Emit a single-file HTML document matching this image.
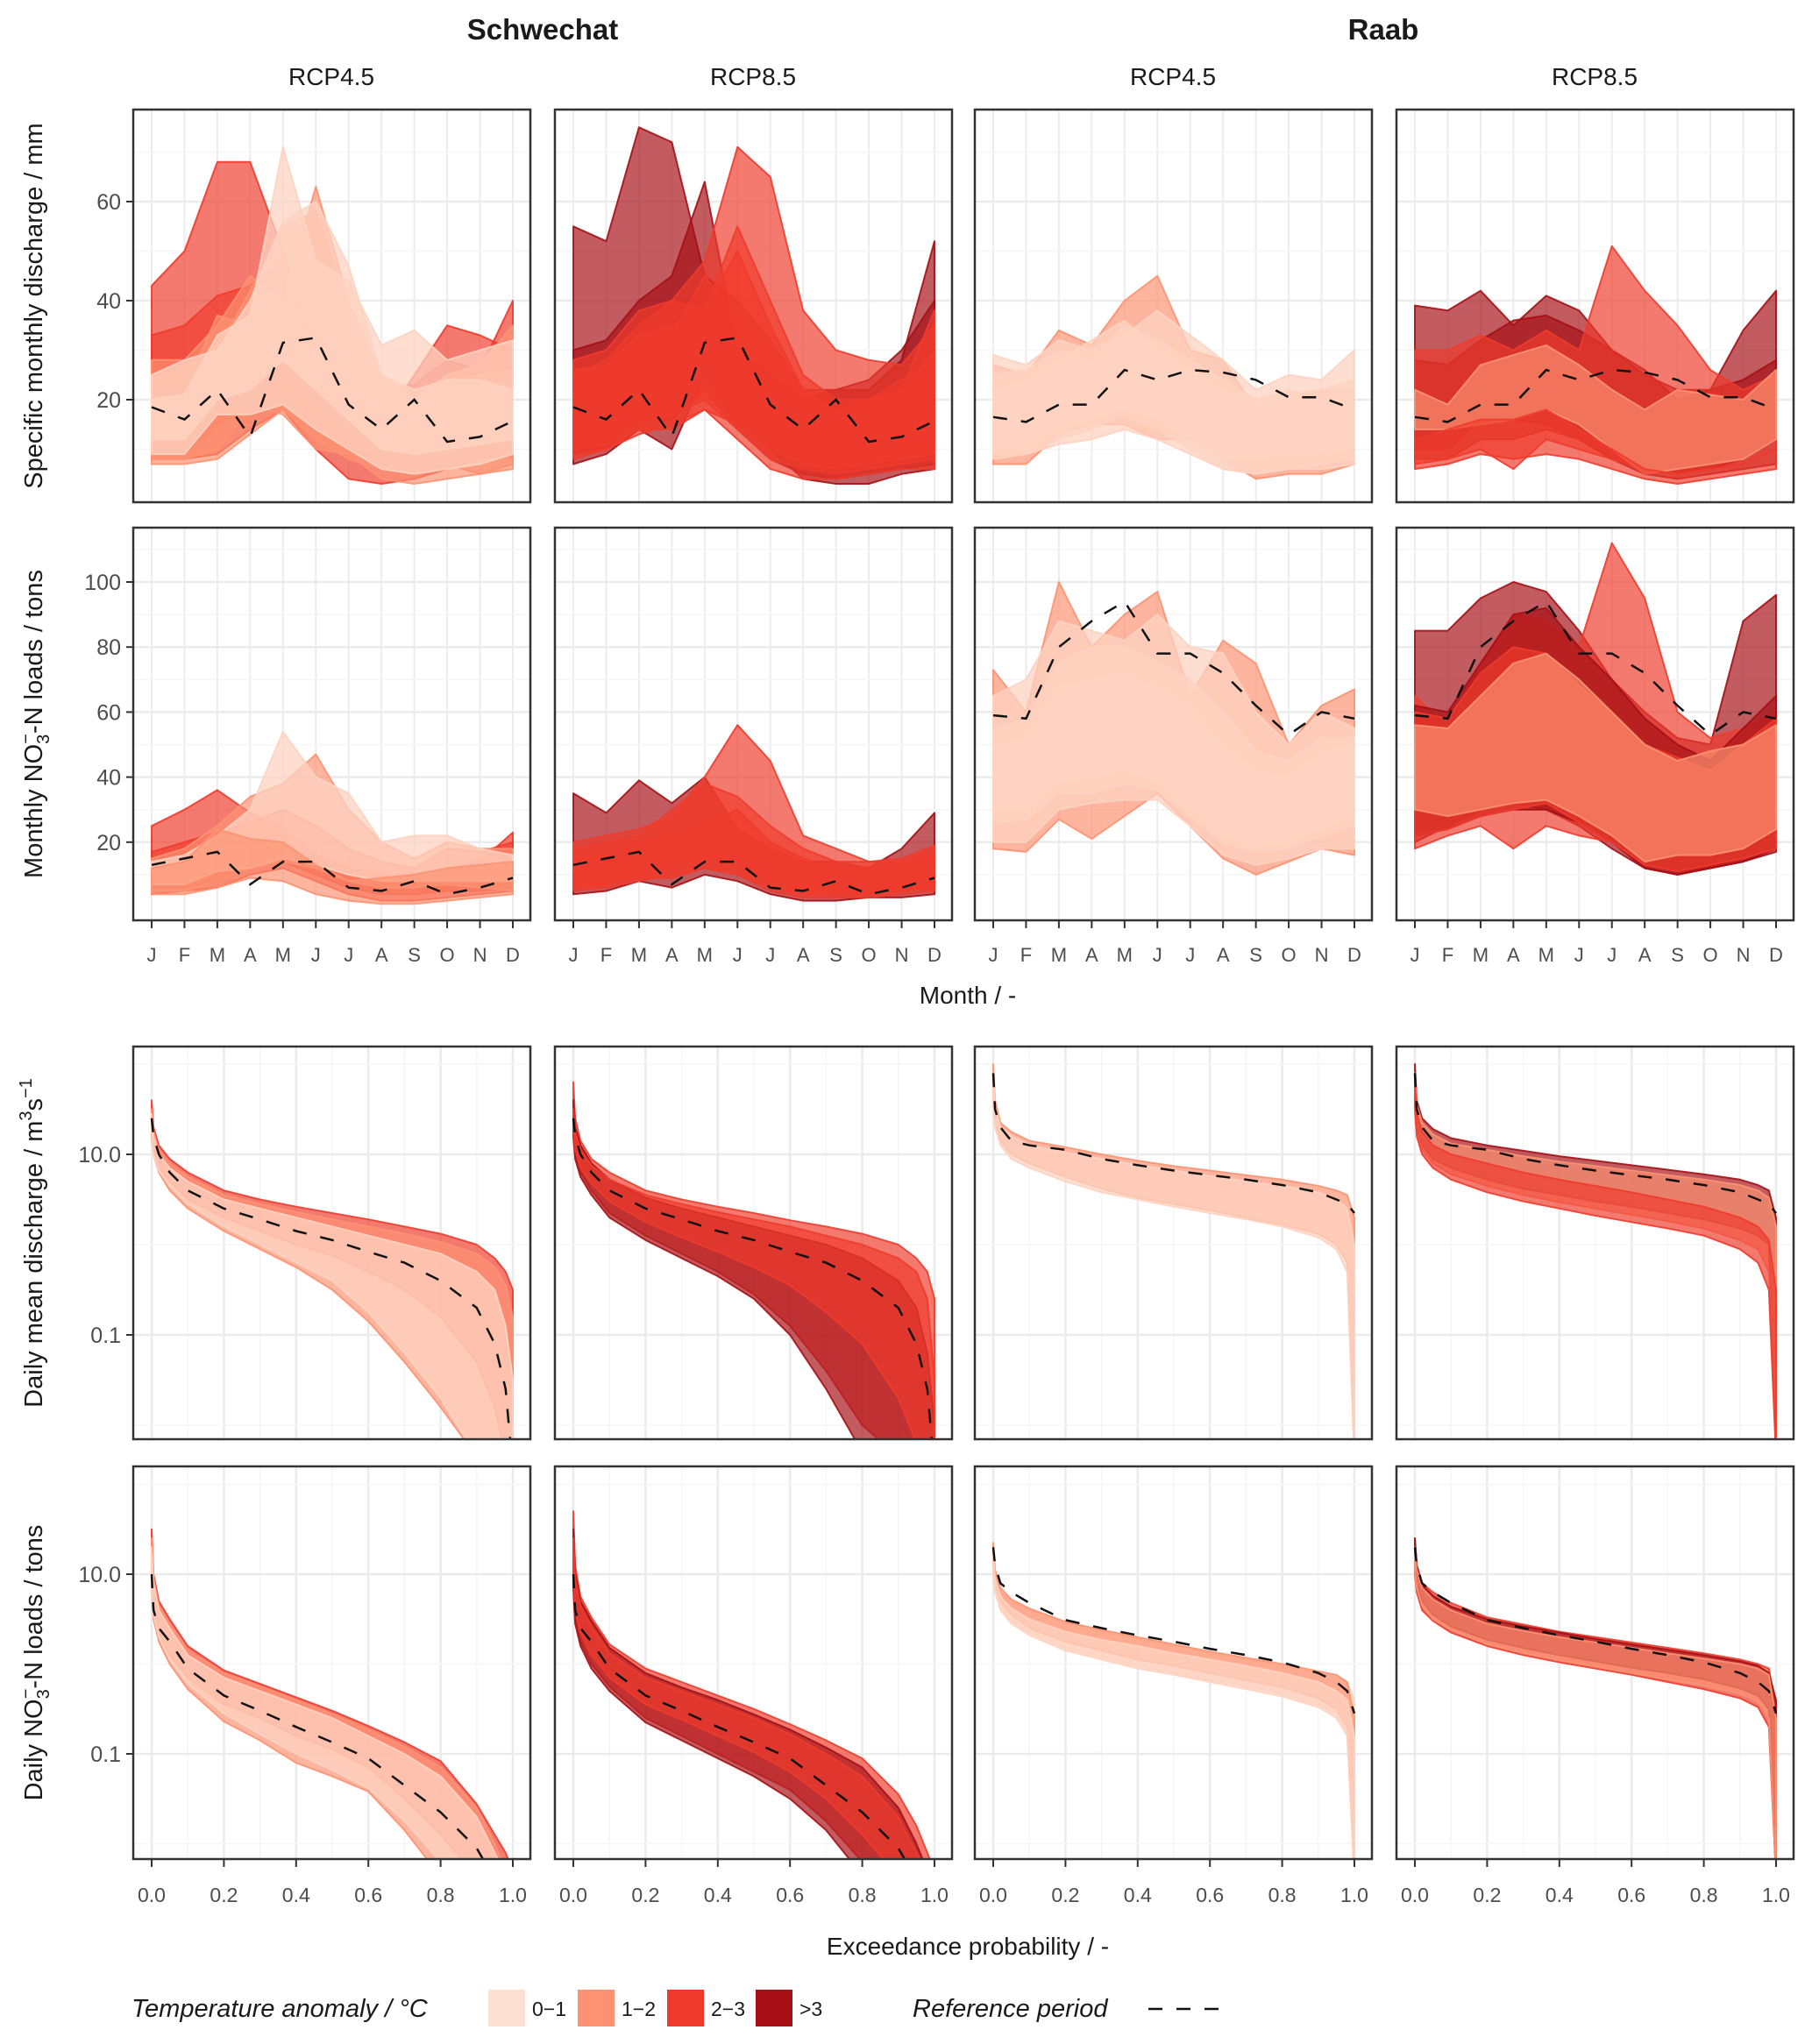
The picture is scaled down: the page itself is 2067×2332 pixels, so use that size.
<!DOCTYPE html>
<html><head><meta charset="utf-8"><title>Schwechat / Raab climate scenario panels</title>
<style>
html,body{margin:0;padding:0;background:#fff;}
svg text{font-family:"Liberation Sans",sans-serif;}
</style></head>
<body>
<svg id="chart" xmlns="http://www.w3.org/2000/svg" width="2067" height="2332" viewBox="0 0 2067 2332">
<rect width="2067" height="2332" fill="#fff"/>
<g id="root"></g>
</svg>
<script>
// ---------- data ----------
const monthLabels=['J','F','M','A','M','J','J','A','S','O','N','D'];
const probPoints=[0,0.005,0.02,0.05,0.1,0.2,0.3,0.4,0.5,0.6,0.7,0.8,0.9,0.95,0.98,1.0];
const probTicks=['0.0','0.2','0.4','0.6','0.8','1.0'];
const dischargeTicks=[20,40,60];
const nitrateTicks=[20,40,60,80,100];
const logTicks=[{v:1,t:'10.0'},{v:-1,t:'0.1'}];
const categories=['0-1','1-2','2-3','>3'];
const catColors={'0-1':'#fdd3c1','1-2':'#fc9272','2-3':'#ef3b2c','>3':'#a50f15'};

// reference period (dashed)
const refDischargeSchwechat=[18.5,16,22,12.5,31.5,32.5,19,14,20,11.5,12.5,15.7];
const refDischargeRaab=[16.5,15.5,19,19,26,24,26,25.5,24,20.5,20.5,18];
const refNitrateSchwechat=[13,15,17,7,14,14,6,5,8,4,6,9];
const refNitrateRaab=[59,58,80,88,94,78,78,72,62,53,60,58];
const refFlowSchwechat=[1.4,1.2,1.0,0.8,0.6,0.4,0.28,0.15,0.05,-0.08,-0.2,-0.4,-0.7,-1.1,-1.6,-2.5];
const refFlowRaab=[1.9,1.5,1.3,1.15,1.1,1.05,0.95,0.88,0.82,0.77,0.72,0.66,0.58,0.5,0.45,0.35];
const refLoadSchwechat=[1.0,0.6,0.4,0.25,-0.05,-0.35,-0.52,-0.7,-0.87,-1.05,-1.35,-1.65,-2.05,-2.4,-2.7,-3];
const refLoadRaab=[1.3,1.1,0.9,0.8,0.68,0.49,0.4,0.32,0.25,0.17,0.1,0.02,-0.1,-0.2,-0.3,-0.55];

// ribbons: monthly discharge (mm)
const qSchw45=[
 {c:'2-3',hi:[43,50,68,68,50,30,20,15,25,35,33,30],lo:[8,8,9,14,18,10,4,3,4,6,8,9]},
 {c:'2-3',hi:[33,35,41,43,48,38,30,22,23,28,26,40],lo:[9,9,15,18,22,15,10,8,9,10,10,12]},
 {c:'1-2',hi:[28,28,35,45,40,63,40,25,20,25,27,35],lo:[8,8,10,18,24,18,12,8,10,12,12,8]},
 {c:'1-2',hi:[24,27,30,42,55,58,38,24,20,24,25,26],lo:[7,7,8,13,18,12,8,6,6,7,5,6]},
 {c:'1-2',hi:[23,22,37,35,33,22,26,14,16,21,22,24],lo:[10,10,18,19,17,10,9,4,3,4,5,7]},
 {c:'0-1',hi:[20,21,33,37,71,48,44,31,34,28,30,32],lo:[9,9,17,17,19,14,10,6,5,6,7,9]},
 {c:'0-1',hi:[25,28,30,40,56,60,47,25,22,24,24,22],lo:[12,12,20,22,28,22,16,10,9,10,11,12]}];
const qSchw85=[
 {c:'>3',hi:[55,52,75,72,45,40,32,22,22,22,28,52],lo:[7,9,14,10,25,15,10,4,3,3,5,6]},
 {c:'>3',hi:[30,32,40,45,64,30,25,20,22,24,30,40],lo:[9,10,16,16,22,14,8,5,4,5,6,7]},
 {c:'2-3',hi:[25,28,35,40,48,71,65,38,30,28,27,35],lo:[12,14,20,22,30,25,15,10,8,8,9,10]},
 {c:'2-3',hi:[28,30,38,40,38,55,40,25,20,20,22,38],lo:[8,10,14,14,18,12,6,4,4,5,6,6]},
 {c:'2-3',hi:[26,27,33,35,38,50,35,22,18,18,20,30],lo:[10,11,15,17,20,14,8,6,5,6,7,8]},
 {c:'2-3',hi:[24,25,30,33,45,36,30,20,18,20,24,28],lo:[9,10,13,15,18,15,10,7,6,7,8,9]}];
const qRaab45=[
 {c:'1-2',hi:[27,25,34,31,40,45,30,28,18,20,22,22],lo:[7,7,13,15,15,12,12,8,4,5,5,7]},
 {c:'0-1',hi:[29,27,32,30,33,38,33,28,22,25,24,30],lo:[8,9,12,14,17,14,10,6,5,6,7,8]},
 {c:'0-1',hi:[22,24,28,32,36,30,26,22,20,22,20,22],lo:[10,10,14,16,18,16,12,8,8,9,9,10]},
 {c:'0-1',hi:[25,26,30,28,35,32,28,24,20,21,22,24],lo:[9,9,11,12,14,12,9,6,5,6,6,7]},
 {c:'0-1',hi:[20,20,25,28,30,28,24,20,18,18,18,20],lo:[12,12,15,17,20,18,14,10,9,10,11,12]}];
const qRaab85=[
 {c:'>3',hi:[39,38,42,35,41,38,30,26,20,22,34,42],lo:[10,10,16,16,15,12,8,6,5,6,8,12]},
 {c:'>3',hi:[28,27,32,36,37,34,30,25,22,22,24,28],lo:[8,8,12,12,14,12,8,5,4,5,6,7]},
 {c:'2-3',hi:[30,30,33,30,34,30,51,42,35,26,22,25],lo:[7,8,10,6,12,10,8,6,5,6,7,10]},
 {c:'1-2',hi:[22,19,27,29,31,27,22,18,22,21,20,26],lo:[14,14,15,16,18,15,10,5,6,7,8,12]},
 {c:'2-3',hi:[12,14,16,16,18,14,10,6,5,6,7,10],lo:[6,7,9,8,9,8,6,4,3,4,5,6]}];

// ribbons: monthly NO3-N loads (tons)
const nSchw45=[
 {c:'2-3',hi:[25,30,36,29,24,16,12,10,8,12,14,23],lo:[4,5,6,10,12,8,4,2,2,3,4,5]},
 {c:'2-3',hi:[17,20,23,26,30,25,18,14,12,18,17,20],lo:[6,6,8,12,14,10,6,4,4,5,5,6]},
 {c:'1-2',hi:[15,18,25,34,38,47,30,20,15,20,18,18],lo:[5,5,8,12,14,12,8,6,6,7,6,5]},
 {c:'0-1',hi:[14,16,22,30,54,40,35,20,22,22,18,16],lo:[7,7,11,12,15,13,10,8,8,8,8,8]},
 {c:'1-2',hi:[12,14,24,21,20,13,8,9,10,12,13,14],lo:[4,4,6,9,8,4,2,1,1,2,3,4]}];
const nSchw85=[
 {c:'>3',hi:[35,29,39,32,40,24,18,14,14,12,18,29],lo:[4,5,8,6,10,8,4,2,2,3,3,4]},
 {c:'2-3',hi:[20,22,24,28,40,56,45,22,18,14,14,18],lo:[6,7,10,12,16,14,8,5,4,4,5,6]},
 {c:'2-3',hi:[18,20,22,30,38,34,25,18,14,14,15,19],lo:[5,6,8,10,12,10,5,3,3,3,4,5]},
 {c:'2-3',hi:[15,16,20,22,25,30,20,15,12,12,13,16],lo:[6,7,9,9,12,10,6,4,4,4,5,6]}];
const nRaab45=[
 {c:'1-2',hi:[73,60,100,80,90,97,65,82,75,50,62,67],lo:[18,17,27,21,28,35,25,15,10,14,18,16]},
 {c:'0-1',hi:[65,70,88,85,82,90,80,78,60,50,60,55],lo:[20,20,30,32,33,33,25,16,13,15,18,18]},
 {c:'0-1',hi:[55,58,75,80,80,75,70,60,48,45,52,52],lo:[26,27,35,35,38,36,28,20,17,18,22,25]},
 {c:'0-1',hi:[50,52,68,70,72,68,62,50,42,40,48,50],lo:[30,30,38,40,42,38,30,22,18,20,24,28]}];
const nRaab85=[
 {c:'>3',hi:[85,85,95,100,97,85,70,60,52,50,88,96],lo:[20,25,30,32,30,25,18,12,10,12,14,18]},
 {c:'2-3',hi:[65,55,75,90,88,80,112,95,60,52,55,60],lo:[18,22,25,18,25,22,20,14,11,12,15,18]},
 {c:'>3',hi:[62,60,75,90,92,80,70,58,50,45,55,65],lo:[22,24,28,30,30,26,20,12,10,12,14,17]},
 {c:'2-3',hi:[60,58,72,80,78,68,60,50,46,42,50,58],lo:[22,24,28,30,32,26,20,13,11,13,15,18]},
 {c:'1-2',hi:[56,55,65,75,78,70,60,50,45,48,50,56],lo:[30,28,30,32,33,28,22,14,16,16,18,24]}];

// ribbons: daily flow duration (log10 m3/s)
const fSchw45=[
 {c:'2-3',hi:[1.6,1.3,1.1,0.95,0.8,0.6,0.5,0.42,0.35,0.28,0.2,0.12,0.0,-0.15,-0.3,-0.5],lo:[1.3,1.05,0.85,0.7,0.5,0.3,0.15,0.0,-0.12,-0.3,-0.5,-0.8,-1.3,-1.8,-2.4,-3]},
 {c:'1-2',hi:[1.5,1.25,1.05,0.9,0.75,0.55,0.45,0.36,0.28,0.2,0.12,0.03,-0.1,-0.25,-0.45,-0.8],lo:[1.2,1.0,0.8,0.6,0.4,0.15,-0.05,-0.25,-0.5,-0.85,-1.3,-1.8,-2.5,-3,-3,-3]},
 {c:'0-1',hi:[1.45,1.2,1.0,0.85,0.7,0.5,0.4,0.3,0.2,0.1,0.0,-0.1,-0.3,-0.5,-0.9,-1.5],lo:[1.25,1.0,0.82,0.65,0.45,0.2,0.0,-0.2,-0.4,-0.75,-1.2,-1.7,-2.4,-3,-3,-3]}];
const fSchw85=[
 {c:'2-3',hi:[1.8,1.4,1.15,0.95,0.8,0.6,0.5,0.42,0.35,0.27,0.2,0.12,0.0,-0.15,-0.3,-0.6],lo:[1.3,1.0,0.8,0.6,0.35,0.1,-0.1,-0.3,-0.55,-0.9,-1.4,-2.0,-3,-3,-3,-3]},
 {c:'>3',hi:[1.6,1.3,1.1,0.9,0.72,0.52,0.4,0.3,0.2,0.1,0.0,-0.15,-0.4,-0.7,-1.2,-2],lo:[1.2,0.95,0.75,0.55,0.3,0.05,-0.15,-0.35,-0.6,-1.0,-1.6,-2.3,-3,-3,-3,-3]},
 {c:'2-3',hi:[1.5,1.25,1.05,0.88,0.72,0.55,0.45,0.36,0.28,0.2,0.1,0.0,-0.15,-0.3,-0.6,-1.5],lo:[1.3,1.05,0.85,0.68,0.48,0.25,0.08,-0.08,-0.25,-0.45,-0.75,-1.1,-1.7,-2.2,-3,-3]}];
const fRaab45=[
 {c:'1-2',hi:[2.0,1.6,1.35,1.25,1.15,1.08,1.0,0.93,0.87,0.82,0.77,0.72,0.65,0.6,0.55,0.3],lo:[1.6,1.35,1.15,1.0,0.9,0.75,0.62,0.52,0.45,0.38,0.3,0.22,0.12,0.0,-0.2,-3]},
 {c:'0-1',hi:[1.9,1.55,1.3,1.2,1.1,1.02,0.95,0.88,0.82,0.76,0.7,0.65,0.58,0.5,0.4,0.0],lo:[1.55,1.3,1.1,0.95,0.85,0.7,0.58,0.5,0.42,0.35,0.28,0.2,0.08,-0.05,-0.3,-3]}];
const fRaab85=[
 {c:'>3',hi:[2.0,1.6,1.4,1.28,1.18,1.1,1.04,0.98,0.93,0.88,0.83,0.78,0.72,0.66,0.6,0.3],lo:[1.6,1.3,1.1,0.95,0.85,0.72,0.62,0.55,0.48,0.42,0.35,0.28,0.18,0.1,0.0,-3]},
 {c:'1-2',hi:[1.9,1.55,1.35,1.22,1.12,1.05,0.98,0.92,0.87,0.82,0.77,0.72,0.66,0.6,0.52,0.2],lo:[1.55,1.25,1.05,0.9,0.78,0.65,0.55,0.47,0.4,0.33,0.26,0.18,0.05,-0.05,-0.3,-3]},
 {c:'2-3',hi:[1.8,1.45,1.25,1.1,1.0,0.9,0.8,0.72,0.65,0.58,0.5,0.42,0.3,0.2,0.05,-0.5],lo:[1.5,1.2,1.0,0.85,0.72,0.58,0.48,0.4,0.32,0.25,0.18,0.1,-0.05,-0.2,-0.5,-3]}];

// ribbons: daily NO3-N load duration (log10 tons)
const lSchw45=[
 {c:'2-3',hi:[1.5,1.0,0.7,0.5,0.2,-0.07,-0.22,-0.37,-0.52,-0.69,-0.87,-1.08,-1.56,-1.9,-2.1,-2.3],lo:[1.0,0.6,0.35,0.1,-0.15,-0.45,-0.6,-0.8,-0.95,-1.15,-1.5,-1.9,-2.5,-3,-3,-3]},
 {c:'1-2',hi:[1.4,0.95,0.65,0.45,0.15,-0.1,-0.25,-0.4,-0.56,-0.73,-0.92,-1.15,-1.6,-2.0,-2.3,-2.5],lo:[0.9,0.5,0.25,0.0,-0.28,-0.64,-0.85,-1.1,-1.25,-1.42,-1.85,-2.4,-3,-3,-3,-3]},
 {c:'0-1',hi:[1.3,0.9,0.6,0.4,0.1,-0.15,-0.3,-0.45,-0.6,-0.8,-1.0,-1.25,-1.7,-2.1,-2.4,-2.6],lo:[0.95,0.55,0.3,0.05,-0.22,-0.55,-0.78,-1.0,-1.18,-1.38,-1.75,-2.2,-3,-3,-3,-3]}];
const lSchw85=[
 {c:'2-3',hi:[1.7,1.1,0.75,0.52,0.22,-0.05,-0.2,-0.35,-0.5,-0.67,-0.85,-1.05,-1.45,-1.8,-2.1,-2.3],lo:[0.9,0.5,0.25,0.0,-0.25,-0.6,-0.8,-1.0,-1.2,-1.4,-1.75,-2.2,-3,-3,-3,-3]},
 {c:'>3',hi:[1.5,1.0,0.7,0.48,0.18,-0.1,-0.26,-0.4,-0.56,-0.73,-0.93,-1.15,-1.6,-2.0,-2.3,-2.5],lo:[0.85,0.45,0.2,-0.05,-0.3,-0.65,-0.85,-1.05,-1.25,-1.5,-1.85,-2.35,-3,-3,-3,-3]},
 {c:'2-3',hi:[1.4,0.95,0.65,0.42,0.12,-0.15,-0.3,-0.45,-0.6,-0.78,-1.0,-1.25,-1.7,-2.1,-2.4,-2.6],lo:[1.0,0.6,0.35,0.1,-0.15,-0.45,-0.62,-0.8,-0.98,-1.2,-1.5,-1.9,-2.5,-3,-3,-3]}];
const lRaab45=[
 {c:'0-1',hi:[1.3,1.0,0.8,0.7,0.6,0.45,0.36,0.28,0.2,0.12,0.05,-0.02,-0.1,-0.15,-0.2,-0.4],lo:[1.0,0.8,0.6,0.45,0.32,0.15,0.05,-0.05,-0.12,-0.2,-0.28,-0.36,-0.48,-0.6,-0.8,-3]},
 {c:'1-2',hi:[1.35,1.05,0.85,0.72,0.62,0.47,0.38,0.3,0.22,0.14,0.07,0.0,-0.08,-0.12,-0.2,-0.6],lo:[1.1,0.9,0.7,0.55,0.4,0.25,0.15,0.05,-0.02,-0.1,-0.18,-0.26,-0.38,-0.5,-0.7,-3]},
 {c:'0-1',hi:[1.25,0.95,0.75,0.62,0.5,0.36,0.27,0.2,0.12,0.05,-0.02,-0.1,-0.2,-0.3,-0.4,-0.8],lo:[1.05,0.82,0.62,0.48,0.35,0.18,0.08,-0.02,-0.1,-0.18,-0.25,-0.33,-0.45,-0.55,-0.75,-3]}];
const lRaab85=[
 {c:'2-3',hi:[1.4,1.1,0.9,0.8,0.68,0.52,0.44,0.36,0.3,0.24,0.18,0.12,0.05,0.0,-0.05,-0.5],lo:[1.0,0.8,0.6,0.48,0.35,0.2,0.1,0.02,-0.05,-0.12,-0.2,-0.28,-0.38,-0.48,-0.7,-3]},
 {c:'>3',hi:[1.4,1.1,0.88,0.76,0.64,0.5,0.42,0.35,0.28,0.22,0.16,0.1,0.03,-0.02,-0.1,-0.4],lo:[1.1,0.9,0.7,0.55,0.42,0.27,0.18,0.1,0.03,-0.04,-0.1,-0.17,-0.27,-0.35,-0.5,-3]},
 {c:'1-2',hi:[1.3,1.05,0.85,0.72,0.6,0.45,0.37,0.3,0.24,0.18,0.12,0.06,0.0,-0.05,-0.12,-0.6],lo:[1.05,0.85,0.65,0.5,0.38,0.22,0.12,0.04,-0.03,-0.1,-0.17,-0.24,-0.33,-0.42,-0.6,-3]}];

// ---------- drawing ----------
const NS='http://www.w3.org/2000/svg';
const root=document.getElementById('root');
function mk(tag,attrs,parent){const e=document.createElementNS(NS,tag);for(const k in attrs)e.setAttribute(k,attrs[k]);(parent||root).appendChild(e);return e;}
const colX=[152,633,1112,1593], PW=453;
const rowY=[125,602,1194,1673], PH=448;
const xMonth=(i,c)=>colX[c]+21+i*412/11;
const xProb=(p,c)=>colX[c]+21+p*412;
const yScales=[v=>569-5.65*v, v=>1035-3.71*v, l=>1317-103*(l-1), l=>1796-102.5*(l-1)];
const defs=mk('defs',{});
const panels=[
 [qSchw45,qSchw85,qRaab45,qRaab85],
 [nSchw45,nSchw85,nRaab45,nRaab85],
 [fSchw45,fSchw85,fRaab45,fRaab85],
 [lSchw45,lSchw85,lRaab45,lRaab85]];
const refs=[
 [refDischargeSchwechat,refDischargeSchwechat,refDischargeRaab,refDischargeRaab],
 [refNitrateSchwechat,refNitrateSchwechat,refNitrateRaab,refNitrateRaab],
 [refFlowSchwechat,refFlowSchwechat,refFlowRaab,refFlowRaab],
 [refLoadSchwechat,refLoadSchwechat,refLoadRaab,refLoadRaab]];
const rowNames=['monthly-discharge','monthly-nitrate','daily-discharge','daily-nitrate'];
const colNames=['schwechat-rcp45','schwechat-rcp85','raab-rcp45','raab-rcp85'];

for(let r=0;r<4;r++){for(let c=0;c<4;c++){
  const x0=colX[c], y0=rowY[r], ys=yScales[r];
  const g=mk('g',{});
  
  
  const cp=mk('clipPath',{id:'cp'+r+c},defs);
  mk('rect',{x:x0,y:y0,width:PW,height:PH},cp);
  // grid
  const grid=mk('g',{},g);
  
  
  if(r<2){
    for(let i=0;i<12;i++) mk('line',{x1:xMonth(i,c),x2:xMonth(i,c),y1:y0,y2:y0+PH,stroke:'#ececec','stroke-width':2},grid);
    const tk=r==0?dischargeTicks:nitrateTicks, step=r==0?10:10;
    for(let v=step;v<=(r==0?70:110);v+=step){const y=ys(v);if(y<y0||y>y0+PH)continue;
      mk('line',{x1:x0,x2:x0+PW,y1:y,y2:y,stroke:tk.includes(v)?'#ebebeb':'#f5f5f5','stroke-width':tk.includes(v)?2.5:1.5},grid);}
  }else{
    for(let k=0;k<=10;k++){const x=xProb(k/10,c);mk('line',{x1:x,x2:x,y1:y0,y2:y0+PH,stroke:k%2==0?'#ebebeb':'#f5f5f5','stroke-width':k%2==0?2.5:1.5},grid);}
    [-2,-1,0,1,2].forEach(l=>{const y=ys(l);if(y<y0||y>y0+PH)return;
      mk('line',{x1:x0,x2:x0+PW,y1:y,y2:y,stroke:(l==1||l==-1)?'#ebebeb':'#f5f5f5','stroke-width':(l==1||l==-1)?2.5:1.5},grid);});
  }
  // ribbons
  const rg=mk('g',{'clip-path':'url(#cp'+r+c+')'},g);
  
  
  panels[r][c].forEach((rb,k)=>{
    const xf=r<2?(i=>xMonth(i,c)):(i=>xProb(probPoints[i],c));
    const yc=v=>Math.max(y0-20,Math.min(y0+PH+20,ys(v)));
    let d='';
    rb.hi.forEach((v,i)=>{d+=(i?'L':'M')+xf(i).toFixed(1)+','+yc(v).toFixed(1);});
    for(let i=rb.lo.length-1;i>=0;i--) d+='L'+xf(i).toFixed(1)+','+yc(rb.lo[i]).toFixed(1);
    d+='Z';
    const p=mk('path',{d:d,fill:catColors[rb.c],'fill-opacity':rb.c=='0-1'?0.75:0.68,stroke:catColors[rb.c],'stroke-opacity':0.9,'stroke-width':2,'stroke-linejoin':'round'},rg);
    
    
  });
  // reference dashed line
  const ref=refs[r][c];
  let d='';
  ref.forEach((v,i)=>{const x=r<2?xMonth(i,c):xProb(probPoints[i],c);d+=(i?'L':'M')+x.toFixed(1)+','+ys(v).toFixed(1);});
  const rl=mk('path',{d:d,fill:'none',stroke:'#111','stroke-width':2.5,'stroke-dasharray':'16,16','clip-path':'url(#cp'+r+c+')'},g);
  
  
  // border
  mk('rect',{x:x0,y:y0,width:PW,height:PH,fill:'none',stroke:'#333','stroke-width':2.5},g);
  // y ticks (first column)
  if(c==0){
    if(r<2){
      (r==0?dischargeTicks:nitrateTicks).forEach(v=>{const y=ys(v);
        mk('line',{x1:x0-8,x2:x0,y1:y,y2:y,stroke:'#333','stroke-width':2},g);
        const t=mk('text',{x:x0-14,y:y+9,'text-anchor':'end','font-size':25,fill:'#4d4d4d'},g);t.textContent=v;
        
        });
    }else{
      logTicks.forEach(o=>{const y=ys(o.v);
        mk('line',{x1:x0-8,x2:x0,y1:y,y2:y,stroke:'#333','stroke-width':2},g);
        const t=mk('text',{x:x0-14,y:y+9,'text-anchor':'end','font-size':25,fill:'#4d4d4d'},g);t.textContent=o.t;
        
        });
    }
  }
  // x ticks (rows 2 and 4)
  if(r==1){
    monthLabels.forEach((m,i)=>{const x=xMonth(i,c);
      mk('line',{x1:x,x2:x,y1:y0+PH,y2:y0+PH+9,stroke:'#333','stroke-width':2},g);
      const t=mk('text',{x:x,y:1097,'text-anchor':'middle','font-size':22,fill:'#4d4d4d'},g);t.textContent=m;
      
      });
  }
  if(r==3){
    probTicks.forEach((s,k)=>{const x=xProb(parseFloat(s),c);
      mk('line',{x1:x,x2:x,y1:y0+PH,y2:y0+PH+9,stroke:'#333','stroke-width':2},g);
      const t=mk('text',{x:x,y:2170,'text-anchor':'middle','font-size':23,fill:'#4d4d4d'},g);t.textContent=s;
      
      });
  }
}}
</script>
<g></g>
<svg x="0" y="0" width="2067" height="2332" style="position:absolute;left:0;top:0" xmlns="http://www.w3.org/2000/svg">
<g font-family="Liberation Sans, sans-serif">
<text x="619" y="45" text-anchor="middle" font-size="33" font-weight="bold" fill="#1a1a1a">Schwechat</text>
<text x="1578" y="45" text-anchor="middle" font-size="33" font-weight="bold" fill="#1a1a1a">Raab</text>
<text x="378" y="97" text-anchor="middle" font-size="28" fill="#1a1a1a">RCP4.5</text>
<text x="859" y="97" text-anchor="middle" font-size="28" fill="#1a1a1a">RCP8.5</text>
<text x="1338" y="97" text-anchor="middle" font-size="28" fill="#1a1a1a">RCP4.5</text>
<text x="1819" y="97" text-anchor="middle" font-size="28" fill="#1a1a1a">RCP8.5</text>
<text transform="translate(48,349) rotate(-90)" text-anchor="middle" font-size="29" fill="#1a1a1a">Specific monthly discharge / mm</text>
<text transform="translate(48,826) rotate(-90)" text-anchor="middle" font-size="29" fill="#1a1a1a">Monthly NO<tspan font-size="20" dy="8">3</tspan><tspan font-size="20" dy="-20" dx="-11">−</tspan><tspan dy="12">-N loads / tons</tspan></text>
<text transform="translate(48,1418) rotate(-90)" text-anchor="middle" font-size="29" fill="#1a1a1a">Daily mean discharge /  m<tspan font-size="20" dy="-12">3</tspan><tspan dy="12">s</tspan><tspan font-size="20" dy="-12">−1</tspan></text>
<text transform="translate(48,1897) rotate(-90)" text-anchor="middle" font-size="29" fill="#1a1a1a">Daily NO<tspan font-size="20" dy="8">3</tspan><tspan font-size="20" dy="-20" dx="-11">−</tspan><tspan dy="12">-N loads / tons</tspan></text>
<text x="1104" y="1145" text-anchor="middle" font-size="28" fill="#1a1a1a">Month / -</text>
<text x="1104" y="2230" text-anchor="middle" font-size="28" fill="#1a1a1a">Exceedance probability / -</text>
<g>
<text x="150" y="2301" font-size="29" font-style="italic" fill="#1a1a1a">Temperature anomaly / °C</text>
<rect x="557" y="2270" width="42" height="42" fill="#fee0d2"/>
<text x="607" y="2300" font-size="23" fill="#1a1a1a">0−1</text>
<rect x="659" y="2270" width="42" height="42" fill="#fc9272"/>
<text x="709" y="2300" font-size="23" fill="#1a1a1a">1−2</text>
<rect x="761" y="2270" width="42" height="42" fill="#ef3b2c"/>
<text x="811" y="2300" font-size="23" fill="#1a1a1a">2−3</text>
<rect x="862" y="2270" width="42" height="42" fill="#a50f15"/>
<text x="912" y="2300" font-size="23" fill="#1a1a1a">&gt;3</text>
<text x="1041" y="2301" font-size="29" font-style="italic" fill="#1a1a1a">Reference period</text>
<line x1="1310" y1="2292" x2="1395" y2="2292" stroke="#111" stroke-width="2.5" stroke-dasharray="16,16"/>
</g>
</g>
</svg>
<style>body{position:relative;width:2067px;height:2332px;overflow:hidden;} #chart{position:absolute;left:0;top:0;}</style>
</body></html>
